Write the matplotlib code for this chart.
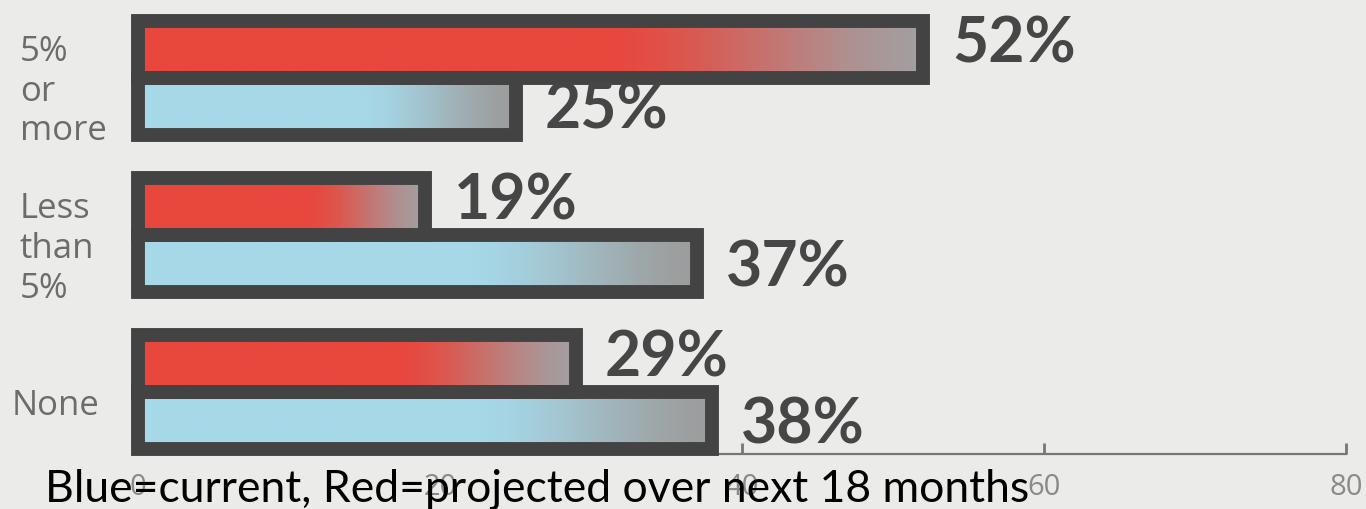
import numpy as np
import matplotlib
matplotlib.use("Agg")
import matplotlib.pyplot as plt
from matplotlib.colors import to_rgb
from matplotlib.transforms import blended_transform_factory

# ---------------- data ----------------
categories = ["5%\nor\nmore", "Less\nthan\n5%", "None"]
projected = [52, 19, 29]   # red bars (projected over next 18 months)
current = [25, 37, 38]     # blue bars (current)
xticks = [0, 20, 40, 60, 80]
xtick_labels = ["0", "20", "40", "60", "80"]
caption = "Blue=current, Red=projected over next 18 months"

# ---------------- style ----------------
BG = "#ebebe9"
EDGE = "#434343"
RED = "#e8473d"
RED_END = "#a39fa1"
BLUE = "#a6d8e8"
BLUE_END = "#9c9c9c"
LABEL_C = "#464646"
CAT_C = "#6c6c6c"
TICK_C = "#8a8a8a"

W, H = 1366, 509
fig = plt.figure(figsize=(W / 100, H / 100), dpi=100, facecolor=BG)
ax = fig.add_axes([138 / W, (H - 454) / H, (1346 - 138) / W, 454 / H])
ax.set_facecolor(BG)

pos = np.arange(len(categories))
h = 0.3625

red_bars = ax.barh(pos - h / 2, projected, height=h, facecolor="none",
                   edgecolor=EDGE, linewidth=10, clip_on=False, zorder=3)
blue_bars = ax.barh(pos + h / 2, current, height=h, facecolor="none",
                    edgecolor=EDGE, linewidth=10, clip_on=False, zorder=3)


def gradient(c0, c1, start=0.6, n=256):
    t = np.linspace(0, 1, n)
    f = np.clip((t - start) / (1 - start), 0, 1)
    f = f * f * (3 - 2 * f) * 0.6 + f * 0.4
    a, b = np.array(to_rgb(c0)), np.array(to_rgb(c1))
    img = (1 - f)[:, None] * a + f[:, None] * b
    return img.reshape(1, n, 3)


for bars, c0, c1 in ((red_bars, RED, RED_END), (blue_bars, BLUE, BLUE_END)):
    img = gradient(c0, c1)
    for bar in bars:
        x0, y0 = bar.get_x(), bar.get_y()
        w, hh = bar.get_width(), bar.get_height()
        ax.imshow(img, extent=(x0, x0 + w, y0 + hh, y0), aspect="auto",
                  interpolation="bilinear", zorder=2)

# value labels
for bars, vals, dy in ((red_bars, projected, 3.5), (blue_bars, current, -3.5)):
    for bar, v in zip(bars, vals):
        yc = bar.get_y() + bar.get_height() / 2
        ax.annotate(f"{v}%", xy=(v, yc), xytext=(21, dy),
                    textcoords="offset points", ha="left", va="center",
                    fontsize=45, fontweight="bold", family="Lato",
                    color=LABEL_C, annotation_clip=False)

# category labels
trans = blended_transform_factory(fig.transFigure, ax.transData)
for i, cat in enumerate(categories):
    x = 12 / W if "\n" not in cat else 20 / W
    ax.text(x, pos[i] + 14 / 157.25, cat, transform=trans, ha="left",
            va="center", fontsize=25, family="Open Sans", color=CAT_C,
            linespacing=1.22)

ax.set_xlim(0, 80)
ax.set_ylim(2.394, -0.493)
ax.set_yticks([])
ax.set_xticks(xticks)
ax.set_xticklabels(xtick_labels, fontsize=21, family="Open Sans",
                   color=TICK_C)
ax.tick_params(axis="x", direction="in", length=8, width=2, color="#777777",
               pad=14)
for s in ("top", "right", "left"):
    ax.spines[s].set_visible(False)
ax.spines["bottom"].set_color("#777777")
ax.spines["bottom"].set_linewidth(1.6)

fig.text(45 / W, 7 / H, caption, fontsize=32, family="Lato", color="black",
         ha="left", va="baseline", zorder=10)

fig.savefig("out.png", dpi=100, facecolor=BG)
